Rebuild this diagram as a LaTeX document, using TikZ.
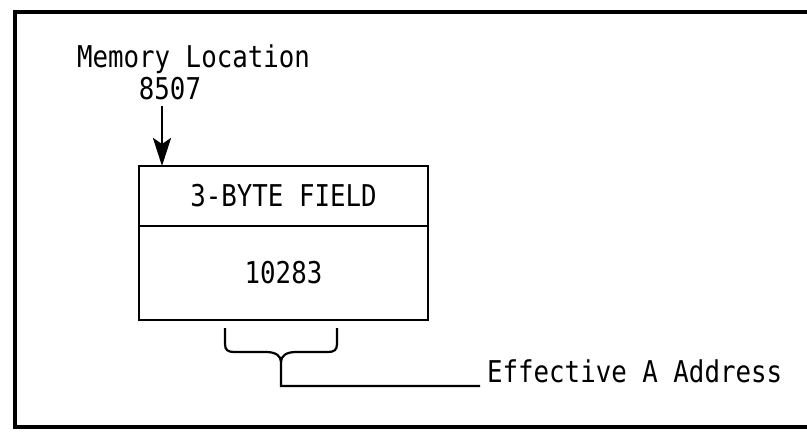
\documentclass[tikz,border=0pt]{standalone}
\usepackage{fontspec}
\newfontfamily\typefont[FakeStretch=0.86]{DejaVu Sans Mono}
\usetikzlibrary{positioning, arrows.meta}

\begin{document}
\begin{tikzpicture}[
    x=0.5pt, y=-0.5pt,
    txt/.style={font=\typefont\fontsize{15}{18}\selectfont},
    cell/.style={draw, line width=1.1pt, txt, minimum width=144.5pt,
                 inner sep=0pt, outer sep=0pt, align=center},
    frame/.style={line width=1.6pt},
    line/.style={line width=1.1pt},
    arr/.style={-{Stealth[length=14pt, width=9pt, inset=3pt]}, line width=1.4pt},
  ]
  \useasboundingbox (0,0) rectangle (807,433);

  % Outer frame (open on the right)
  \draw[frame] (807,12) -- (15,12) -- (15,427) -- (807,427);

  % Location label
  \node[txt, anchor=base] (loc) at (193.5,68) {Memory Location};
  \node[txt, anchor=base] (addr) at (170,99) {8507};

  % Storage box: field name over value
  \node[cell, minimum height=30pt] (field) at (283.5,196) {3-BYTE FIELD};
  \node[cell, minimum height=47pt, below=0pt of field] (value) {10283};

  % Address label
  \node[txt, anchor=base west] (eff) at (480,382) {Effective A Address};

  % Brace under the value
  \coordinate (brL) at (225,328);
  \coordinate (brR) at (337,328);
  \coordinate (brT) at (281,362);

  % Arrows
  \draw[arr] ([xshift=-4pt]addr.south) -- ([xshift=-4pt]addr.south |- field.north);
  \draw[line] (brL) -- (225,344) .. controls (225,350) and (228,352) .. (234,352)
        -- (266,352) .. controls (276,352) and (281,356) .. (brT)
        -- (brT |- 0,386) -- ([yshift=-2pt]eff.base west);
  \draw[line] (brR) -- (337,344) .. controls (337,350) and (334,352) .. (328,352)
        -- (296,352) .. controls (286,352) and (281,356) .. (brT);
\end{tikzpicture}
\end{document}
